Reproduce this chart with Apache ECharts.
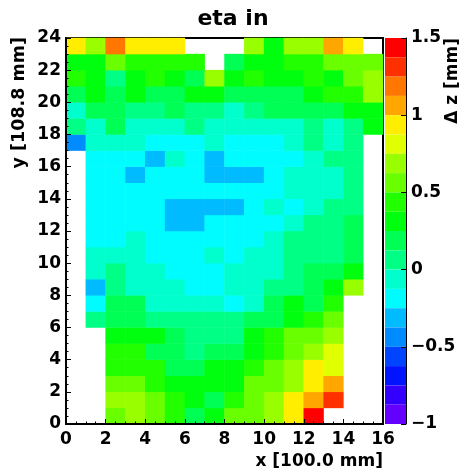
<!DOCTYPE html>
<html>
<head>
<meta charset="utf-8">
<script src="https://cdn.jsdelivr.net/npm/echarts@6/dist/echarts.min.js"></script>
<style>
  html, body { margin: 0; padding: 0; background: #fff; }
  #chart-container { width: 464px; height: 472px; }
</style>
</head>
<body>
<div id="chart-container"></div>
<script>
var dom = document.getElementById('chart-container');
var myChart = echarts.init(dom, null, { renderer: 'canvas' });

// bin centres (x: 16 bins of 1, y: 24 bins of 1)
const xBins = [0.5, 1.5, 2.5, 3.5, 4.5, 5.5, 6.5, 7.5, 8.5, 9.5, 10.5, 11.5, 12.5, 13.5, 14.5, 15.5];
const yBins = [0.5, 1.5, 2.5, 3.5, 4.5, 5.5, 6.5, 7.5, 8.5, 9.5, 10.5, 11.5,
  12.5, 13.5, 14.5, 15.5, 16.5, 17.5, 18.5, 19.5, 20.5, 21.5, 22.5, 23.5];

// delta z [mm], one row per y bin, bottom row first
const dzRows = [
  [null, null, 0.56, 0.69, 0.56, 0.44, 0.19, 0.31, 0.56, 0.56, 0.69, 0.94, 1.44, null, null, null],
  [null, null, 0.69, 0.69, 0.56, 0.44, 0.31, 0.19, 0.44, 0.56, 0.69, 0.94, 1.06, 1.31, null, null],
  [null, null, 0.56, 0.56, 0.44, 0.31, 0.31, 0.31, 0.31, 0.56, 0.56, 0.69, 0.94, 1.06, null, null],
  [null, null, 0.44, 0.44, 0.44, 0.19, 0.19, 0.31, 0.31, 0.44, 0.56, 0.69, 0.94, 0.81, null, null],
  [null, null, 0.44, 0.44, 0.19, 0.19, 0.06, 0.19, 0.19, 0.31, 0.44, 0.56, 0.69, 0.81, null, null],
  [null, null, 0.31, 0.31, 0.31, 0.19, 0.06, 0.06, 0.06, 0.31, 0.44, 0.56, 0.56, 0.69, null, null],
  [null, 0.06, 0.19, 0.19, 0.06, 0.06, 0.06, 0.06, 0.06, 0.19, 0.19, 0.31, 0.44, 0.56, null, null],
  [null, -0.19, 0.19, 0.19, -0.06, -0.06, -0.06, -0.06, -0.19, -0.06, 0.19, 0.31, 0.19, 0.44, null, null],
  [null, -0.31, 0.06, -0.06, -0.06, -0.06, -0.19, -0.19, -0.06, -0.06, 0.06, 0.06, 0.19, 0.31, 0.69, null],
  [null, -0.06, 0.06, -0.06, -0.06, -0.19, -0.19, -0.19, -0.06, -0.06, -0.06, 0.06, 0.19, 0.19, 0.31, null],
  [null, -0.06, -0.06, -0.06, -0.19, -0.19, -0.19, -0.06, -0.19, -0.06, -0.06, 0.06, 0.06, 0.06, 0.19, null],
  [null, -0.19, -0.19, -0.06, -0.19, -0.19, -0.19, -0.19, -0.19, -0.19, -0.06, 0.06, 0.06, 0.06, 0.19, null],
  [null, -0.19, -0.19, -0.19, -0.19, -0.31, -0.31, -0.19, -0.19, -0.19, -0.19, -0.06, 0.06, 0.06, 0.19, null],
  [null, -0.19, -0.19, -0.19, -0.19, -0.31, -0.31, -0.31, -0.31, -0.19, -0.06, -0.19, -0.06, 0.06, 0.06, null],
  [null, -0.19, -0.19, -0.19, -0.19, -0.19, -0.19, -0.19, -0.19, -0.19, -0.19, -0.06, -0.06, -0.06, 0.06, null],
  [null, -0.19, -0.19, -0.31, -0.19, -0.19, -0.19, -0.31, -0.31, -0.31, -0.19, -0.06, -0.06, -0.06, 0.06, null],
  [null, -0.19, -0.19, -0.19, -0.31, -0.06, -0.19, -0.31, -0.19, -0.19, -0.19, -0.19, -0.06, 0.06, 0.06, null],
  [-0.44, -0.06, -0.06, -0.06, -0.19, -0.19, -0.19, -0.06, -0.19, -0.19, -0.19, -0.06, 0.06, -0.06, 0.06, null],
  [0.06, -0.06, 0.19, -0.06, -0.06, -0.06, 0.06, -0.06, -0.06, -0.06, -0.06, -0.06, 0.06, -0.06, 0.06, 0.31],
  [-0.06, 0.19, 0.19, 0.06, 0.06, 0.19, 0.06, 0.06, -0.06, 0.06, 0.19, 0.19, 0.19, 0.19, 0.31, 0.31],
  [0.19, 0.31, 0.19, 0.31, 0.19, 0.19, 0.31, 0.31, 0.19, 0.19, 0.19, 0.19, 0.31, 0.44, 0.44, 0.69],
  [0.44, 0.31, 0.06, 0.31, 0.44, 0.31, 0.19, 0.69, 0.31, 0.44, 0.31, 0.31, 0.44, 0.31, 0.56, 0.69],
  [0.31, 0.31, 0.56, 0.44, 0.44, 0.44, 0.44, null, 0.19, 0.31, 0.31, 0.44, 0.44, 0.56, 0.56, 0.56],
  [0.94, 0.69, 1.19, 0.94, 0.94, 0.94, null, null, null, 0.69, 0.31, 0.69, 0.69, 1.06, 0.94, null]
];

// palette: 20 contour levels from -1 to 1.5
const levelEdges = [-1, -0.875, -0.75, -0.625, -0.5, -0.375, -0.25, -0.125, 0, 0.125,
  0.25, 0.375, 0.5, 0.625, 0.75, 0.875, 1, 1.125, 1.25, 1.375, 1.5];
const levelColors = ['#6300ff', '#3300ff', '#0014ff', '#0044ff', '#008bff', '#00bbff', '#00fcff', '#00ffcc',
  '#00ff85', '#00ff55', '#00ff0e', '#22ff00', '#69ff00', '#99ff00', '#e0ff00', '#ffee00',
  '#ffa700', '#ff7700', '#ff3000', '#ff0000'];

var heatData = [];
dzRows.forEach(function (row, yi) {
  row.forEach(function (v, xi) {
    if (v !== null) heatData.push([xi, yi, v]);
  });
});

var pieces = [];
for (let i = 0; i < levelColors.length; i++) {
  pieces.push({ gte: levelEdges[i], lt: levelEdges[i + 1], color: levelColors[i] });
}

var fontFam = '"DejaVu Sans"';
var tickLabel = { color: '#000', fontFamily: fontFam, fontWeight: 'bold', fontSize: 17 };

var option = {
  animation: false,
  backgroundColor: '#fff',
  grid: [
    { left: 66, top: 38, width: 317, height: 386, show: true, borderColor: '#000', borderWidth: 2, backgroundColor: 'transparent' },
    { left: 385, top: 38, width: 21, height: 386, show: false }
  ],
  xAxis: [
    { type: 'category', gridIndex: 0, data: xBins, show: false },
    {
      type: 'value', gridIndex: 0, position: 'bottom', min: 0, max: 16, interval: 2, z: 10,
      axisLine: { onZero: false, lineStyle: { color: '#000', width: 2 } },
      axisTick: { inside: true, length: 5, lineStyle: { color: '#000', width: 1 } },
      minorTick: { show: true, splitNumber: 4, length: 2.5, lineStyle: { color: '#000', width: 1 } },
      splitLine: { show: false },
      axisLabel: Object.assign({ margin: 7 }, tickLabel)
    },
    { type: 'value', gridIndex: 1, min: 0, max: 1, show: false }
  ],
  yAxis: [
    { type: 'category', gridIndex: 0, data: yBins, show: false },
    {
      type: 'value', gridIndex: 0, position: 'left', min: 0, max: 24, interval: 2, z: 10,
      axisLine: { onZero: false, lineStyle: { color: '#000', width: 2 } },
      axisTick: { inside: true, length: 5, lineStyle: { color: '#000', width: 1 } },
      minorTick: { show: true, splitNumber: 4, length: 2.5, lineStyle: { color: '#000', width: 1 } },
      splitLine: { show: false },
      axisLabel: Object.assign({ margin: 5 }, tickLabel)
    },
    {
      type: 'value', gridIndex: 1, position: 'right', min: -1, max: 1.5, interval: 0.5, z: 10,
      axisLine: { onZero: false, lineStyle: { color: '#000', width: 1 } },
      axisTick: { inside: true, length: 5, lineStyle: { color: '#000', width: 1 } },
      splitLine: { show: false },
      axisLabel: Object.assign({
        margin: 5,
        formatter: function (v) { return v < 0 ? '\u2212' + Math.abs(v) : String(v); }
      }, tickLabel)
    }
  ],
  visualMap: {
    type: 'piecewise',
    seriesIndex: 0,
    orient: 'vertical',
    left: 385,
    top: 38,
    padding: 0,
    itemWidth: 21,
    itemHeight: 386 / 20,
    itemGap: 0,
    itemSymbol: 'rect',
    showLabel: false,
    selectedMode: false,
    hoverLink: false,
    pieces: pieces
  },
  graphic: [
    {
      type: 'text', x: 233, y: 19,
      style: { text: 'eta in', fill: '#000', font: 'bold 22px ' + fontFam, align: 'center', verticalAlign: 'middle' }
    },
    {
      type: 'text', x: 19, y: 37, rotation: Math.PI / 2,
      style: { text: 'y [108.8 mm]', fill: '#000', font: 'bold 17.5px ' + fontFam, align: 'right', verticalAlign: 'middle' }
    },
    {
      type: 'text', x: 383, y: 462,
      style: { text: 'x [100.0 mm]', fill: '#000', font: 'bold 17px ' + fontFam, align: 'right', verticalAlign: 'middle' }
    },
    {
      type: 'text', x: 453, y: 38, rotation: Math.PI / 2,
      style: { text: '\u0394 z [mm]', fill: '#000', font: 'bold 17px ' + fontFam, align: 'right', verticalAlign: 'middle' }
    }
  ],
  series: [
    {
      type: 'heatmap',
      xAxisIndex: 0,
      yAxisIndex: 0,
      data: heatData,
      itemStyle: { borderWidth: 0 },
      emphasis: { disabled: true }
    }
  ]
};

myChart.setOption(option);
window.addEventListener('resize', myChart.resize);
</script>
</body>
</html>
